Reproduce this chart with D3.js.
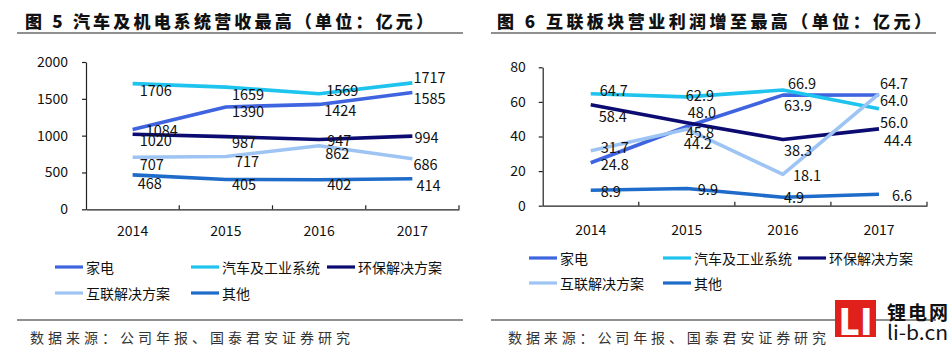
<!DOCTYPE html>
<html><head><meta charset="utf-8">
<script src="https://cdn.jsdelivr.net/npm/d3@7"></script>
<style>
body{margin:0;background:#fff;}
svg{display:block;}
text{font-family:"Noto Sans CJK SC","Open Sans",sans-serif;}
</style></head><body>
<svg id="c" width="951" height="347"></svg>
<script>
// ---------- data ----------
const years = ["2014","2015","2016","2017"];
const seriesNames = ["家电","汽车及工业系统","环保解决方案","互联解决方案","其他"];
// Chart 1: revenue (亿元)
const rev_jiadian = [1084,1390,1424,1585];
const rev_qiche   = [1706,1659,1569,1717];
const rev_huanbao = [1020,987,947,994];
const rev_hulian  = [707,717,862,686];
const rev_qita    = [468,405,402,414];
const revTicks = [0,500,1000,1500,2000];
// Chart 2: operating profit (亿元)
const op_jiadian = [24.8,45.8,63.9,64.0];
const op_qiche   = [64.7,62.9,66.9,56.0];
const op_huanbao = [58.4,48.0,38.3,44.4];
const op_hulian  = [31.7,44.2,18.1,64.7];
const op_qita    = [8.9,9.9,4.9,6.6];
const opTicks = [0,20,40,60,80];

const title1 = "图 5  汽车及机电系统营收最高（单位：亿元）";
const title2 = "图 6  互联板块营业利润增至最高（单位：亿元）";
const sourceText = "数据来源：公司年报、国泰君安证券研究";

// ---------- styles ----------
const colors = ["#3f64e0","#1ec3ee","#0b0b72","#9ec4f3","#1f6bc9"];
// label offsets (dx,dy) relative to point
const off1 = [
  [[13,0],[6,4],[5,4.6],[1,4.7]],
  [[7,5.6],[6,6.2],[7,-4.7],[1,-6.8]],
  [[7,5.8],[6,5],[8,-0.3],[2,0.2]],
  [[7,6],[9,4.2],[6,6.5],[1,5.2]],
  [[5,7.5],[6,4.5],[8,4.3],[4,5.5]]
];
const off2 = [
  [[10,0.5],[-1,5.5],[1,9],[1,5]],
  [[9,-4.5],[-1,-2.6],[5,-7.7],[1,12.2]],
  [[8,11.3],[1,-11],[1,9.6],[5,10.4]],
  [[10,-4.2],[-3,13.5],[10,0.6],[1,-11.5]],
  [[10,-0.3],[11,-0.3],[1,-0.5],[13,0]]
];

const svg = d3.select("#c");
svg.append("rect").attr("width",951).attr("height",347).attr("fill","#fff");

function panel(o){
  const g = svg.append("g");
  // title
  g.append("text").attr("x",o.titleX).attr("y",20).attr("dominant-baseline","central")
    .attr("font-size",17).attr("font-weight",900).attr("fill","#111")
    .attr("textLength",o.titleW).attr("lengthAdjust","spacing").text(o.title);
  g.append("line").attr("x1",o.ruleX0).attr("x2",o.ruleX1).attr("y1",33).attr("y2",33)
    .attr("stroke","#222").attr("stroke-width",1.2);
  g.append("line").attr("x1",o.ruleX0).attr("x2",o.ruleX1).attr("y1",320).attr("y2",320)
    .attr("stroke","#222").attr("stroke-width",1.2);
  g.append("text").attr("x",o.srcX).attr("y",337).attr("dominant-baseline","central")
    .attr("font-size",14).attr("fill","#333").attr("textLength",o.srcW).attr("lengthAdjust","spacing")
    .text(sourceText);

  const x = d3.scaleBand().domain(years).range([o.x0,o.x1]);
  const y = d3.scaleLinear().domain([0,o.ymax]).range([o.y0,o.y1]);

  // y axis
  const ya = g.append("g").attr("transform",`translate(${o.x0},0)`)
    .call(d3.axisLeft(y).tickValues(o.ticks).tickFormat(d3.format("d")).tickSize(4).tickSizeOuter(0).tickPadding(o.tp));
  ya.selectAll("path,line").attr("stroke","#222").attr("stroke-width",1.2);
  ya.selectAll("text").attr("font-size",14).attr("fill","#111").attr("font-family","'Open Sans',sans-serif");
  // x axis
  const xa = g.append("g").attr("transform",`translate(0,${o.y0})`)
    .call(d3.axisBottom(x).tickSize(0).tickSizeOuter(0).tickPadding(o.xp));
  xa.select("path").attr("stroke","#222").attr("stroke-width",1.2);
  xa.selectAll("text").attr("font-size",14).attr("fill","#111").attr("font-family","'Open Sans',sans-serif");
  const bounds = d3.range(1,years.length+1).map(i=>o.x0 + i*x.step());
  g.selectAll(".bt").data(bounds).join("line").attr("x1",d=>d).attr("x2",d=>d)
    .attr("y1",o.y0).attr("y2",o.y0-4).attr("stroke","#222").attr("stroke-width",1.2);

  const line = d3.line().x((d,i)=>x(years[i])+x.bandwidth()/2).y(d=>y(d));
  o.series.forEach((s,k)=>{
    g.append("path").attr("d",line(s)).attr("fill","none").attr("stroke",colors[k])
      .attr("stroke-width",3.6).attr("stroke-linejoin","round").attr("stroke-linecap","butt");
  });
  o.series.forEach((s,k)=>{
    s.forEach((v,i)=>{
      g.append("text").attr("x",x(years[i])+x.bandwidth()/2+o.off[k][i][0])
        .attr("y",y(v)+o.off[k][i][1]).attr("dominant-baseline","central")
        .attr("font-size",14.5).attr("fill","#111").attr("font-family","'Open Sans',sans-serif")
        .text(o.fmt(v));
    });
  });
  // legend
  seriesNames.forEach((n,k)=>{
    const col = k<3 ? k : k-3;
    const row = k<3 ? 0 : 1;
    const lx = o.legX[col], ly = o.legY[row];
    g.append("line").attr("x1",lx).attr("x2",lx+28).attr("y1",ly).attr("y2",ly)
      .attr("stroke",colors[k]).attr("stroke-width",3.2);
    g.append("text").attr("x",lx+31).attr("y",ly).attr("dominant-baseline","central")
      .attr("font-size",14).attr("fill","#111").text(n);
  });
}

panel({title:title1,titleX:25,titleW:408,ruleX0:17,ruleX1:463,srcX:30,srcW:320,
  x0:86,x1:459,y0:209.3,y1:62,ymax:2000,ticks:revTicks,tp:14,xp:17,
  series:[rev_jiadian,rev_qiche,rev_huanbao,rev_hulian,rev_qita],off:off1,fmt:d3.format("d"),
  legX:[55,191,327],legY:[267,293]});
panel({title:title2,titleX:497,titleW:434,ruleX0:491,ruleX1:936,srcX:508,srcW:318,
  x0:542.7,x1:927,y0:205.7,y1:67.3,ymax:80,ticks:opTicks,tp:13,xp:19,
  series:[op_jiadian,op_qiche,op_huanbao,op_hulian,op_qita],off:off2,fmt:d3.format(".1f"),
  legX:[529,663,798],legY:[258,283]});

// logo
const lg = svg.append("g");
lg.append("rect").attr("x",835).attr("y",300).attr("width",41).attr("height",37).attr("fill","#e0201b");
lg.append("text").attr("x",855.5).attr("y",319).attr("text-anchor","middle").attr("dominant-baseline","central")
  .attr("font-size",36).attr("font-weight",900).attr("fill","#fff").attr("font-family","'Liberation Sans',sans-serif")
  .attr("textLength",34).attr("lengthAdjust","spacingAndGlyphs").text("LI");
lg.append("text").attr("x",887).attr("y",311).attr("dominant-baseline","central")
  .attr("font-size",19).attr("font-weight",700).attr("fill","#111").attr("textLength",61).attr("lengthAdjust","spacing").text("锂电网");
lg.append("text").attr("x",887).attr("y",331).attr("dominant-baseline","central")
  .attr("font-size",20).attr("fill","#111").attr("font-family","'DejaVu Sans',sans-serif")
  .attr("textLength",61).attr("lengthAdjust","spacingAndGlyphs").text("li-b.cn");
</script></body></html>
